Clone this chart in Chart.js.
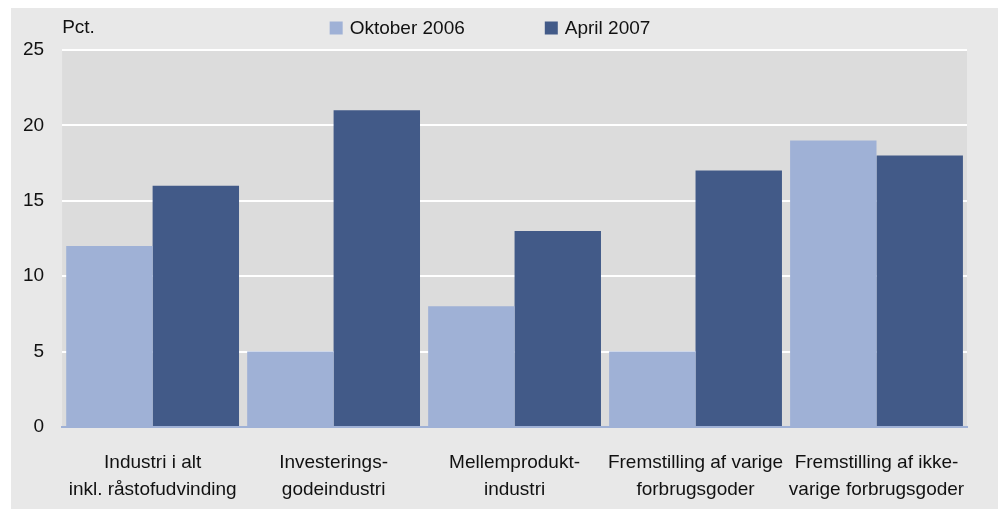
<!DOCTYPE html>
<html>
<head>
<meta charset="utf-8">
<script src="https://cdn.jsdelivr.net/npm/chart.js@4"></script>
<style>
  html, body { margin: 0; padding: 0; background: #ffffff; }
  #wrap { width: 998px; height: 509px; }
</style>
</head>
<body>
<div id="wrap"><canvas id="chart" width="998" height="509"></canvas></div>
<script>
// Data
const categories = [
  ['Industri i alt', 'inkl. råstofudvinding'],
  ['Investerings-', 'godeindustri'],
  ['Mellemprodukt-', 'industri'],
  ['Fremstilling af varige', 'forbrugsgoder'],
  ['Fremstilling af ikke-', 'varige forbrugsgoder']
];
const oktober2006 = [12, 5, 8, 5, 19];
const april2007 = [16, 21, 13, 17, 18];
const yTicks = [0, 5, 10, 15, 20, 25];

const FONT = '"Liberation Sans", Arial, sans-serif';
const LIGHT = '#9fb1d6';
const DARK = '#425a88';

// Backgrounds, "Pct." label and the legend row at the top
const backdrop = {
  id: 'backdrop',
  beforeDraw(chart) {
    const { ctx, chartArea: a } = chart;
    ctx.save();
    ctx.fillStyle = '#e8e8e8';
    ctx.fillRect(11, 8, chart.width - 11, chart.height - 8);
    ctx.fillStyle = '#dcdcdc';
    ctx.fillRect(a.left, a.top, a.right - a.left, a.bottom - a.top);
    ctx.restore();
  },
  afterDraw(chart) {
    const { ctx, chartArea: a } = chart;
    ctx.save();
    ctx.font = '19px ' + FONT;
    ctx.textBaseline = 'middle';
    ctx.textAlign = 'left';
    ctx.fillStyle = '#111111';
    ctx.fillText('Pct.', a.left, 28);

    // legend
    const box = 13, gap = 7, spacing = 80, y = 28;
    const items = chart.data.datasets.map(ds => ({
      text: ds.label, color: ds.backgroundColor,
      w: box + gap + ctx.measureText(ds.label).width
    }));
    const total = items.reduce((s, it) => s + it.w, 0) + spacing * (items.length - 1);
    let x = 490 - total / 2;
    items.forEach(it => {
      ctx.fillStyle = it.color;
      ctx.fillRect(x, y - box / 2, box, box);
      ctx.fillStyle = '#111111';
      ctx.fillText(it.text, x + box + gap, y + 1);
      x += it.w + spacing;
    });
    ctx.restore();
  }
};

new Chart(document.getElementById('chart'), {
  type: 'bar',
  data: {
    labels: categories,
    datasets: [
      { label: 'Oktober 2006', data: oktober2006, backgroundColor: LIGHT },
      { label: 'April 2007', data: april2007, backgroundColor: DARK }
    ]
  },
  options: {
    responsive: false,
    animation: false,
    devicePixelRatio: 1,
    datasets: { bar: { categoryPercentage: 0.955, barPercentage: 1 } },
    layout: { padding: { left: 5, right: 31, top: 50, bottom: -17 } },
    plugins: {
      legend: { display: false },
      tooltip: { enabled: false }
    },
    scales: {
      x: {
        grid: { display: false, drawTicks: false },
        border: { display: true, color: LIGHT, width: 2 },
        ticks: {
          color: '#111111',
          padding: 22,
          maxRotation: 0,
          autoSkip: false,
          font: { family: FONT, size: 19, lineHeight: 1.45 }
        }
      },
      y: {
        min: 0,
        max: 25,
        afterBuildTicks(axis) { axis.ticks = yTicks.map(v => ({ value: v })); },
        grid: { color: '#ffffff', lineWidth: 2, drawTicks: false },
        border: { display: false },
        ticks: {
          color: '#111111',
          padding: 18,
          font: { family: FONT, size: 19 }
        }
      }
    }
  },
  plugins: [backdrop]
});
</script>
</body>
</html>
